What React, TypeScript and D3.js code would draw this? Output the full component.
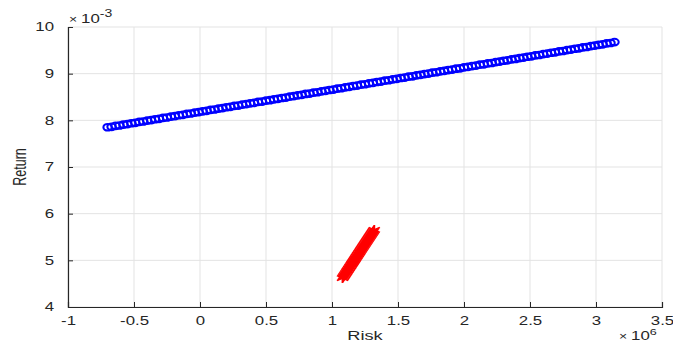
import React, { useEffect, useRef } from "react";
import * as d3 from "d3";

// x values in units of 1e6, y values in units of 1e-3
const blueRisk = [
  -0.70, -0.67, -0.64, -0.61, -0.58, -0.55, -0.52, -0.49, -0.46, -0.43, -0.40, -0.37, -0.34, -0.31, -0.28,
  -0.25, -0.22, -0.19, -0.16, -0.13, -0.10, -0.07, -0.04, -0.01, 0.02, 0.05, 0.08, 0.11, 0.14, 0.17,
  0.20, 0.23, 0.26, 0.29, 0.32, 0.35, 0.38, 0.41, 0.44, 0.47, 0.50, 0.53, 0.56, 0.59, 0.62,
  0.65, 0.68, 0.71, 0.74, 0.77, 0.80, 0.83, 0.86, 0.89, 0.92, 0.95, 0.98, 1.01, 1.04, 1.07,
  1.10, 1.13, 1.16, 1.19, 1.22, 1.25, 1.28, 1.31, 1.34, 1.37, 1.40, 1.43, 1.46, 1.49, 1.52,
  1.55, 1.58, 1.61, 1.64, 1.67, 1.70, 1.73, 1.76, 1.79, 1.82, 1.85, 1.88, 1.91, 1.94, 1.97,
  2.00, 2.03, 2.06, 2.09, 2.12, 2.15, 2.18, 2.21, 2.24, 2.27, 2.30, 2.33, 2.36, 2.39, 2.42,
  2.45, 2.48, 2.51, 2.54, 2.57, 2.60, 2.63, 2.66, 2.69, 2.72, 2.75, 2.78, 2.81, 2.84, 2.87,
  2.90, 2.93, 2.96, 2.99, 3.02, 3.05, 3.08, 3.11, 3.14,
];
const blueReturn = [
  7.852, 7.861, 7.882, 7.889, 7.910, 7.918, 7.938, 7.947, 7.966, 7.975, 7.995, 8.004, 8.023, 8.032, 8.052,
  8.061, 8.080, 8.089, 8.109, 8.118, 8.137, 8.146, 8.166, 8.175, 8.194, 8.203, 8.223, 8.232, 8.251, 8.260,
  8.280, 8.289, 8.308, 8.317, 8.337, 8.346, 8.365, 8.374, 8.394, 8.403, 8.422, 8.431, 8.451, 8.460, 8.479,
  8.488, 8.508, 8.517, 8.536, 8.545, 8.565, 8.574, 8.593, 8.602, 8.622, 8.631, 8.650, 8.659, 8.679, 8.688,
  8.707, 8.716, 8.736, 8.745, 8.764, 8.773, 8.793, 8.802, 8.821, 8.830, 8.850, 8.859, 8.878, 8.887, 8.907,
  8.916, 8.935, 8.944, 8.964, 8.973, 8.992, 9.001, 9.021, 9.030, 9.049, 9.058, 9.078, 9.087, 9.106, 9.115,
  9.135, 9.144, 9.163, 9.172, 9.192, 9.201, 9.220, 9.229, 9.249, 9.258, 9.277, 9.286, 9.306, 9.315, 9.334,
  9.343, 9.363, 9.372, 9.391, 9.400, 9.420, 9.429, 9.448, 9.457, 9.477, 9.486, 9.505, 9.514, 9.534, 9.543,
  9.562, 9.571, 9.591, 9.600, 9.619, 9.628, 9.648, 9.657, 9.676,
];

const redRisk = [
  1.080, 1.085, 1.090, 1.095, 1.100, 1.105, 1.110, 1.115, 1.120, 1.125, 1.130, 1.135, 1.140, 1.145, 1.150,
  1.155, 1.160, 1.165, 1.170, 1.175, 1.180, 1.185, 1.190, 1.195, 1.200, 1.205, 1.210, 1.215, 1.220, 1.225,
  1.230, 1.235, 1.240, 1.245, 1.250, 1.255, 1.260, 1.265, 1.270, 1.275, 1.280, 1.285, 1.290, 1.295, 1.300,
  1.305, 1.310, 1.315, 1.320,
];
const redReturn = [
  4.620, 4.642, 4.663, 4.685, 4.706, 4.728, 4.749, 4.771, 4.792, 4.814, 4.835, 4.857, 4.878, 4.900, 4.921,
  4.943, 4.964, 4.986, 5.007, 5.029, 5.050, 5.072, 5.093, 5.115, 5.136, 5.158, 5.179, 5.201, 5.222, 5.244,
  5.265, 5.287, 5.308, 5.330, 5.351, 5.373, 5.394, 5.416, 5.437, 5.459, 5.480, 5.502, 5.523, 5.545, 5.566,
  5.588, 5.609, 5.631, 5.652,
];

const xTicks = [-1, -0.5, 0, 0.5, 1, 1.5, 2, 2.5, 3, 3.5];
const yTicks = [4, 5, 6, 7, 8, 9, 10];

const font = "'Liberation Sans', Arial, Helvetica, sans-serif";
const ink = "#262626";

export default function App() {
  const ref = useRef<SVGSVGElement>(null);

  useEffect(() => {
    const W = 673;
    const H = 342;
    const margin = { top: 27, right: 11, bottom: 35, left: 68 };
    const width = W - margin.left - margin.right;
    const height = H - margin.top - margin.bottom;

    const svg = d3.select(ref.current).attr("width", W).attr("height", H);
    svg.selectAll("*").remove();
    svg.append("rect").attr("width", W).attr("height", H).attr("fill", "#fff");

    const g = svg.append("g").attr("transform", `translate(${margin.left},${margin.top})`);

    const x = d3.scaleLinear().domain([-1, 3.5]).range([0, width]);
    const y = d3.scaleLinear().domain([4, 10]).range([height, 0]);

    // grid
    g.append("g")
      .selectAll("line")
      .data(xTicks)
      .enter()
      .append("line")
      .attr("x1", (d) => x(d))
      .attr("x2", (d) => x(d))
      .attr("y1", 0)
      .attr("y2", height)
      .attr("stroke", "#e3e3e3");
    g.append("g")
      .selectAll("line")
      .data(yTicks)
      .enter()
      .append("line")
      .attr("x1", 0)
      .attr("x2", width)
      .attr("y1", (d) => y(d))
      .attr("y2", (d) => y(d))
      .attr("stroke", "#e3e3e3");

    // axes, ticks pointing inward
    const xAxis = g
      .append("g")
      .attr("transform", `translate(0,${height})`)
      .call(d3.axisBottom(x).tickValues(xTicks).tickSize(-5).tickPadding(9).tickFormat((d) => String(d)));
    const yAxis = g
      .append("g")
      .call(d3.axisLeft(y).tickValues(yTicks).tickSize(-5).tickPadding(14).tickFormat((d) => String(d)));
    [xAxis, yAxis].forEach((a) => {
      a.select(".domain").attr("stroke", ink).attr("stroke-width", 1.2);
      a.selectAll(".tick line").attr("stroke", ink);
      a.selectAll(".tick text").attr("fill", ink).attr("font-size", 12).attr("font-family", font);
    });

    // blue circles (slightly wide, the picture is stretched sideways)
    g.append("g")
      .selectAll("ellipse")
      .data(blueRisk.map((r, i) => [r, blueReturn[i]]))
      .enter()
      .append("ellipse")
      .attr("cx", (d) => x(d[0]))
      .attr("cy", (d) => y(d[1]))
      .attr("rx", 4.2)
      .attr("ry", 3.3)
      .attr("fill", "none")
      .attr("stroke", "#0000ff")
      .attr("stroke-width", 2.1);

    // red stars
    const star = d3.symbol().type(d3.symbolAsterisk).size(70);
    g.append("g")
      .selectAll("path")
      .data(redRisk.map((r, i) => [r, redReturn[i]]))
      .enter()
      .append("path")
      .attr("transform", (d) => `translate(${x(d[0])},${y(d[1])}) scale(1.3,1)`)
      .attr("d", star() as string)
      .attr("fill", "none")
      .attr("stroke", "#ff0000")
      .attr("stroke-width", 1.5);

    // labels
    svg
      .append("text")
      .attr("class", "wide")
      .attr("x", margin.left + x(1.25))
      .attr("y", 340)
      .attr("text-anchor", "middle")
      .attr("font-family", font)
      .attr("font-size", 13)
      .attr("fill", ink)
      .text("Risk");
    svg
      .append("text")
      .attr("transform", `translate(26,${margin.top + height / 2}) rotate(-90) scale(1,1.4)`)
      .attr("text-anchor", "middle")
      .attr("font-family", font)
      .attr("font-size", 12.5)
      .attr("fill", ink)
      .text("Return");

    // exponent labels
    const e3 = svg
      .append("text")
      .attr("class", "wide")
      .attr("x", 69)
      .attr("y", 23)
      .attr("font-family", font)
      .attr("font-size", 12)
      .attr("fill", ink);
    e3.append("tspan").attr("font-size", 10).text("\u00d7 ");
    e3.append("tspan").text("10");
    e3.append("tspan").attr("dy", -6).attr("font-size", 10).text("-3");

    const e6 = svg
      .append("text")
      .attr("class", "wide")
      .attr("x", 619)
      .attr("y", 339.5)
      .attr("font-family", font)
      .attr("font-size", 12)
      .attr("fill", ink);
    e6.append("tspan").attr("font-size", 10).text("\u00d7 ");
    e6.append("tspan").text("10");
    e6.append("tspan").attr("dy", -4.5).attr("font-size", 9).text("6");

    // stretch horizontal texts sideways like the reference
    svg.selectAll<SVGTextElement, unknown>(".tick text, text.wide").each(function () {
      const len = this.getComputedTextLength();
      d3.select(this).attr("textLength", len * 1.4).attr("lengthAdjust", "spacingAndGlyphs");
    });
  }, []);

  return (
    <div style={{ position: "absolute", left: 0, top: 0 }}>
      <svg ref={ref} style={{ display: "block" }}></svg>
    </div>
  );
}
